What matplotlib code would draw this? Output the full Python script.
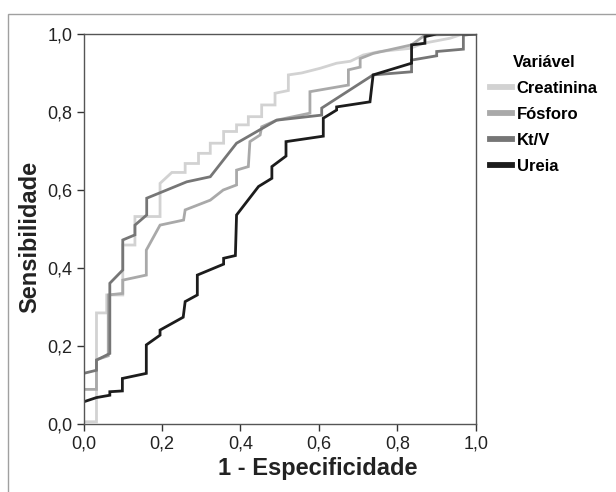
import matplotlib
matplotlib.use("Agg")
from matplotlib import pyplot as plt
from matplotlib.patches import Rectangle

plt.rcParams["font.family"] = ["Liberation Sans", "DejaVu Sans"]

# ROC curve vertices (1 - especificidade, sensibilidade)
creat_x = [0.0, 0.033, 0.033, 0.059, 0.059, 0.1, 0.1, 0.131, 0.131, 0.195, 0.195,
           0.225, 0.259, 0.259, 0.293, 0.293, 0.323, 0.323, 0.357, 0.357, 0.39, 0.39,
           0.42, 0.42, 0.454, 0.454, 0.488, 0.488, 0.522, 0.522, 0.556, 0.603, 0.645,
           0.68, 0.713, 0.755, 0.832, 0.866, 0.934, 0.967, 1.0]
creat_y = [0.006, 0.006, 0.285, 0.285, 0.331, 0.331, 0.459, 0.459, 0.532, 0.532, 0.617,
           0.645, 0.645, 0.668, 0.668, 0.694, 0.694, 0.72, 0.72, 0.75, 0.75, 0.767,
           0.767, 0.788, 0.788, 0.818, 0.818, 0.848, 0.855, 0.895, 0.9, 0.912, 0.925,
           0.93, 0.946, 0.955, 0.963, 0.976, 0.989, 1.0, 1.0]

fosf_x = [0.0, 0.0, 0.033, 0.033, 0.063, 0.063, 0.1, 0.1, 0.16, 0.16, 0.195, 0.195,
          0.255, 0.259, 0.323, 0.356, 0.39, 0.39, 0.42, 0.424, 0.45, 0.454, 0.492,
          0.577, 0.577, 0.675, 0.675, 0.705, 0.705, 0.738, 0.836, 0.87, 1.0]
fosf_y = [0.0, 0.089, 0.089, 0.165, 0.175, 0.331, 0.335, 0.369, 0.382, 0.446, 0.51, 0.51,
          0.523, 0.549, 0.574, 0.6, 0.613, 0.651, 0.66, 0.724, 0.741, 0.762, 0.779,
          0.797, 0.852, 0.869, 0.908, 0.915, 0.937, 0.95, 0.972, 0.997, 1.0]

ktv_x = [0.0, 0.0, 0.033, 0.033, 0.067, 0.067, 0.1, 0.1, 0.131, 0.131, 0.161, 0.161,
         0.263, 0.323, 0.39, 0.492, 0.607, 0.607, 0.738, 0.836, 0.836, 0.9, 0.9,
         0.968, 0.968, 1.0]
ktv_y = [0.0, 0.13, 0.138, 0.164, 0.181, 0.361, 0.395, 0.472, 0.485, 0.51, 0.536, 0.579,
         0.621, 0.634, 0.72, 0.779, 0.792, 0.81, 0.895, 0.903, 0.933, 0.944, 0.955,
         0.961, 0.997, 1.0]

ureia_x = [0.0, 0.0, 0.033, 0.067, 0.067, 0.099, 0.099, 0.16, 0.16, 0.195, 0.195, 0.254,
           0.259, 0.29, 0.29, 0.357, 0.357, 0.387, 0.39, 0.446, 0.48, 0.48, 0.516, 0.516,
           0.611, 0.611, 0.645, 0.645, 0.73, 0.738, 0.836, 0.836, 0.87, 0.87, 0.9, 1.0]
ureia_y = [0.0, 0.057, 0.068, 0.074, 0.083, 0.085, 0.117, 0.13, 0.203, 0.228, 0.241, 0.274,
           0.314, 0.331, 0.382, 0.41, 0.425, 0.432, 0.536, 0.609, 0.63, 0.66, 0.687, 0.724,
           0.738, 0.784, 0.805, 0.813, 0.826, 0.895, 0.925, 0.972, 0.976, 0.993, 1.0, 1.0]

labels = ["Creatinina", "Fósforo", "Kt/V", "Ureia"]
colors = ["#d2d2d2", "#a9a9a9", "#767676", "#1c1c1c"]
ticks = [0.0, 0.2, 0.4, 0.6, 0.8, 1.0]
tick_labels = ["0,0", "0,2", "0,4", "0,6", "0,8", "1,0"]

fig = plt.figure(figsize=(6.16, 4.92), dpi=100)
ax = fig.add_axes([0.1356, 0.138, 0.637, 0.793])

# light frame around the figure (top and left edges visible)
fig.patches.append(Rectangle((8 / 616, -0.1), 1.2, 1.1 - 14 / 492, transform=fig.transFigure,
                             fill=False, edgecolor="#a0a0a0", linewidth=1.0))

for xs, ys, lab, c in zip([creat_x, fosf_x, ktv_x, ureia_x],
                          [creat_y, fosf_y, ktv_y, ureia_y], labels, colors):
    ax.plot(xs, ys, color=c, linewidth=2.0, label=lab, solid_joinstyle="miter")

ax.set_xlim(0, 1)
ax.set_ylim(0, 1)
ax.set_xticks(ticks)
ax.set_xticklabels(tick_labels)
ax.set_yticks(ticks)
ax.set_yticklabels(tick_labels)
ax.tick_params(direction="out", length=5, width=1, colors="#333333", labelsize=13,
               labelcolor="#222222", pad=3)
for s in ax.spines.values():
    s.set_color("#555555")
    s.set_linewidth(1.0)

ax.set_xlabel("1 - Especificidade", fontsize=17, fontweight="bold", color="#222222")
ax.set_ylabel("Sensibilidade", fontsize=17, fontweight="bold", color="#222222")
ax.xaxis.set_label_coords(0.598, -0.085)
ax.yaxis.set_label_coords(-0.108, 0.48)

leg = ax.legend(loc="upper left", bbox_to_anchor=(0.771, 0.918), bbox_transform=fig.transFigure,
                frameon=False, title="Variável", handlelength=1.3, handletextpad=0.3,
                labelspacing=0.65, prop={"weight": "bold", "size": 12})
leg.get_title().set_fontweight("bold")
leg.get_title().set_fontsize(12)
for h in leg.get_lines():
    h.set_linewidth(4.2)

fig.savefig("out.png", dpi=100)
